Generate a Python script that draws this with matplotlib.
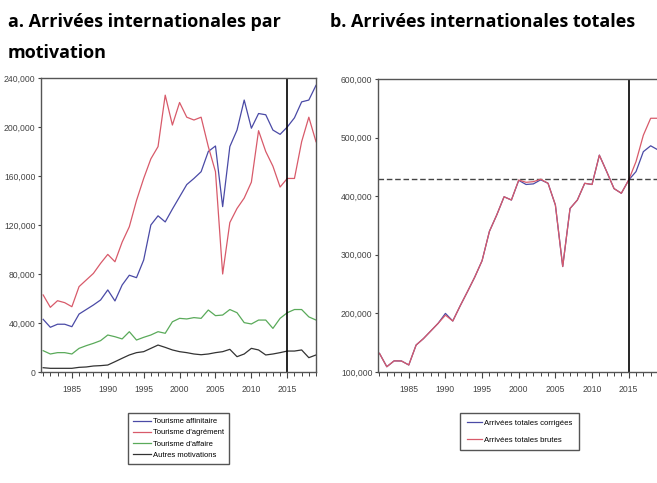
import numpy as np
import matplotlib
matplotlib.use("Agg")
import matplotlib.pyplot as plt
from matplotlib.ticker import FuncFormatter, MultipleLocator

annees = list(range(1981, 2020))

# a. arrivées par motivation
affinitaire = [43000, 36500, 39000, 39000, 37000, 47300, 51000, 54700, 58800, 67000,
               58000, 71000, 79000, 77000, 91400, 120000, 127500, 122500, 133000, 143000,
               153000, 158000, 163500, 180000, 184500, 135000, 184000, 197500, 222000, 199000,
               211000, 210000, 197500, 194000, 200000, 207500, 220500, 222000, 234000]
agrement = [62900, 52800, 58200, 56600, 53300, 69700, 75100, 80500, 88700, 96000,
            90000, 106000, 118600, 140000, 158000, 174000, 184000, 226000, 201600, 220000,
            208000, 205700, 208000, 184000, 163500, 80000, 122000, 133500, 142000, 155000,
            197000, 180000, 168000, 151000, 158000, 158000, 188000, 208000, 188000]
affaire = [17400, 14700, 15800, 15800, 14700, 19300, 21500, 23400, 25600, 30200,
           28800, 27000, 32900, 26100, 28300, 30200, 32900, 31600, 41000, 43800,
           43300, 44400, 43800, 50600, 46000, 46500, 51000, 48400, 40300, 39200,
           42400, 42400, 35600, 43800, 48400, 51000, 51000, 45000, 42400]
autres = [3500, 3000, 3000, 3000, 3000, 3800, 4100, 4900, 5200, 5700,
          8400, 11200, 13900, 15800, 16600, 19300, 22000, 20100, 18000, 16600,
          15800, 14700, 14100, 14700, 15800, 16600, 18500, 12500, 14700, 19300,
          18000, 13900, 14700, 15800, 17100, 17100, 18000, 11700, 13900]

# b. arrivées totales
totales_brutes = [131800, 109000, 119000, 118800, 112000, 146000, 157000, 170000, 183000, 197000,
                  187000, 212600, 237000, 262000, 290000, 340000, 368000, 399000, 393500, 427600,
                  423700, 424800, 429000, 422000, 385000, 280000, 379000, 393500, 422000, 420000,
                  470000, 442000, 413000, 405000, 427600, 459000, 504000, 533000, 533000]
totales_corrigees = [131800, 109000, 119000, 118800, 112000, 146000, 157000, 170000, 183000, 200000,
                     187000, 212600, 237000, 262000, 290000, 340000, 368000, 399000, 393500, 427000,
                     420000, 421000, 428000, 422000, 385000, 280000, 379000, 393500, 422000, 420000,
                     470000, 442000, 413000, 405000, 427600, 442000, 476000, 486000, 479000]
niveau_ref = 430000

plt.rcParams["font.family"] = ["Liberation Sans", "DejaVu Sans"]

fig = plt.figure(figsize=(6.57, 4.83), dpi=100)

bleu = "#4a4aa6"
rouge = "#d85a6a"
vert = "#5aaa5a"
noir = "#333333"


def style_axe(ax):
    for s in ax.spines.values():
        s.set_color("#555555")
        s.set_linewidth(1.0)
    ax.xaxis.set_major_locator(MultipleLocator(5))
    ax.xaxis.set_minor_locator(MultipleLocator(1))
    ax.tick_params(axis="x", which="major", direction="out", length=4.5, width=0.8,
                   pad=5, labelsize=6.2, colors="#444444", top=False)
    ax.tick_params(axis="x", which="minor", direction="out", length=3, width=0.7,
                   colors="#444444", top=False)
    ax.tick_params(axis="y", which="major", direction="out", length=2.5, width=0.8,
                   pad=1.5, labelsize=6.2, colors="#444444", right=False)
    ax.yaxis.set_major_formatter(FuncFormatter(lambda x, p: f"{x:,.0f}"))
    ax.axvline(2015, color="black", linewidth=1.2)


ax1 = fig.add_axes([41 / 657, 1 - 372 / 483, 275 / 657, 294 / 483])
l1, = ax1.plot(annees, affinitaire, color=bleu, linewidth=0.9, label="Tourisme affinitaire")
l2, = ax1.plot(annees, agrement, color=rouge, linewidth=0.9, label="Tourisme d'agrément")
l3, = ax1.plot(annees, affaire, color=vert, linewidth=0.9, label="Tourisme d'affaire")
l4, = ax1.plot(annees, autres, color=noir, linewidth=0.9, label="Autres motivations")
ax1.set_xlim(1980.7, 2019)
ax1.set_ylim(0, 240000)
ax1.yaxis.set_major_locator(MultipleLocator(40000))
style_axe(ax1)

ax2 = fig.add_axes([378 / 657, 1 - 372 / 483, 280 / 657, 293 / 483])
ax2.axhline(niveau_ref, color="#444444", linewidth=1.0, linestyle=(0, (4, 2)))
r1, = ax2.plot(annees, totales_corrigees, color=bleu, linewidth=0.9, label="Arrivées totales corrigées")
r2, = ax2.plot(annees, totales_brutes, color=rouge, linewidth=0.9, label="Arrivées totales brutes")
ax2.set_xlim(1980.8, 2019)
ax2.set_ylim(100000, 600000)
ax2.yaxis.set_major_locator(MultipleLocator(100000))
style_axe(ax2)

fig.legend(handles=[l1, l2, l3, l4], loc="upper left",
           bbox_to_anchor=(128 / 657, 1 - 413 / 483), fontsize=5.5,
           handlelength=2.3, handletextpad=0.3, labelspacing=0.5,
           borderpad=0.65, borderaxespad=0, fancybox=False, framealpha=1,
           edgecolor="#555555")
fig.legend(handles=[r1, r2], loc="upper left",
           bbox_to_anchor=(460 / 657, 1 - 413 / 483), fontsize=5.6,
           handlelength=2.0, handletextpad=0.3, labelspacing=1.2,
           borderpad=0.85, borderaxespad=0, fancybox=False, framealpha=1,
           edgecolor="#555555")

fig.text(8 / 657, 1 - 22 / 483, "a. Arrivées internationales par", family="Open Sans",
         fontweight="bold", fontsize=13, va="center", ha="left")
fig.text(8 / 657, 1 - 53 / 483, "motivation", family="Open Sans",
         fontweight="bold", fontsize=13, va="center", ha="left")
fig.text(330 / 657, 1 - 22 / 483, "b. Arrivées internationales totales", family="Open Sans",
         fontweight="bold", fontsize=13, va="center", ha="left")

fig.savefig("out.png", dpi=100)
